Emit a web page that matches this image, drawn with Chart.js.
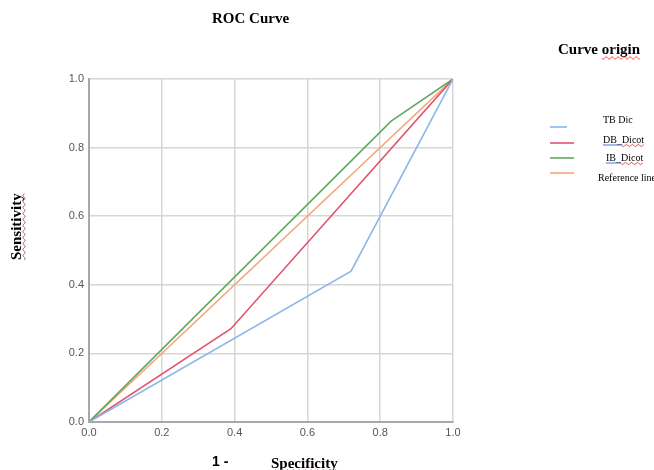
<!DOCTYPE html>
<html>
<head>
<meta charset="utf-8">
<script src="https://cdn.jsdelivr.net/npm/chart.js@4.4.1/dist/chart.umd.min.js"></script>
<style>
  html, body { margin: 0; padding: 0; background: #ffffff; }
  #wrap { width: 654px; height: 470px; position: relative; }
</style>
</head>
<body>
<div id="wrap"><canvas id="c" width="654" height="470"></canvas></div>
<script>
// ---- data ----
const seriesNames = ["TB Dic", "DB_Dicot", "IB_Dicot", "Reference line"];
const tbFpr = [0, 0.72, 1];
const tbTpr = [0, 0.44, 1];
const dbFpr = [0, 0.39, 1];
const dbTpr = [0, 0.272, 1];
const ibFpr = [0, 0.83, 1];
const ibTpr = [0, 0.877, 1];
const refFpr = [0, 1];
const refTpr = [0, 1];
const tickValues = [0, 0.2, 0.4, 0.6, 0.8, 1.0];
const chartTitle = "ROC Curve";
const legendTitle = "Curve origin";
const xTitleA = "1 -";
const xTitleB = "Specificity";
const yTitle = "Sensitivity";

const colors = ["#8db6ea", "#e0546f", "#62a862", "#f5a677"];

function pts(xs, ys) { return xs.map((x, i) => ({ x: x, y: ys[i] })); }

const datasets = [
  { label: seriesNames[0], data: pts(tbFpr, tbTpr) },
  { label: seriesNames[1], data: pts(dbFpr, dbTpr) },
  { label: seriesNames[2], data: pts(ibFpr, ibTpr) },
  { label: seriesNames[3], data: pts(refFpr, refTpr) }
].map((d, i) => Object.assign(d, {
  borderColor: colors[i],
  backgroundColor: colors[i],
  borderWidth: 1.6,
  pointRadius: 0,
  showLine: true,
  tension: 0,
  fill: false
}));

function wavy(ctx, x1, x2, y, color) {
  ctx.save();
  ctx.strokeStyle = color || "#e03030";
  ctx.lineWidth = 0.9;
  ctx.beginPath();
  for (let x = x1; x <= x2; x += 0.5) {
    const yy = y + Math.sin((x - x1) / 3 * Math.PI * 2 / 2) * 1.1;
    if (x === x1) ctx.moveTo(x, yy); else ctx.lineTo(x, yy);
  }
  ctx.stroke();
  ctx.restore();
}

const decorPlugin = {
  id: "decor",
  afterDraw(chart) {
    const ctx = chart.ctx;
    ctx.save();
    ctx.fillStyle = "#000";
    ctx.textBaseline = "alphabetic";

    // Title
    ctx.font = "bold 15px 'Liberation Serif', 'Times New Roman', serif";
    ctx.textAlign = "left";
    ctx.fillText(chartTitle, 212, 23);

    // Legend title
    ctx.fillText(legendTitle, 558, 54);
    const wCurve = ctx.measureText("Curve ").width;
    const wOrigin = ctx.measureText("origin").width;
    wavy(ctx, 558 + wCurve, 558 + wCurve + wOrigin, 58);

    // X title
    ctx.font = "bold 14px 'Liberation Sans', Arial, sans-serif";
    ctx.fillText(xTitleA, 212, 466);
    ctx.font = "bold 15px 'Liberation Serif', 'Times New Roman', serif";
    ctx.fillText(xTitleB, 271, 468);
    const wSpec = ctx.measureText(xTitleB).width;
    wavy(ctx, 271, 271 + wSpec, 471);

    // Y title (rotated)
    ctx.save();
    ctx.translate(21, 260);
    ctx.rotate(-Math.PI / 2);
    ctx.fillText(yTitle, 0, 0);
    const wSens = ctx.measureText(yTitle).width;
    wavy(ctx, 0, wSens, 3);
    ctx.restore();

    // Legend items
    const lineX1 = 550;
    const lineEnds = [567, 574, 574, 574];
    const lineYs = [127, 143, 158, 173];
    const textXs = [603, 603, 606, 598];
    const textYs = [123, 143, 161, 181];
    ctx.font = "10px 'Liberation Serif', 'Times New Roman', serif";
    for (let i = 0; i < seriesNames.length; i++) {
      ctx.strokeStyle = colors[i];
      ctx.lineWidth = 1.6;
      ctx.beginPath();
      ctx.moveTo(lineX1, lineYs[i]);
      ctx.lineTo(lineEnds[i], lineYs[i]);
      ctx.stroke();
      ctx.fillStyle = "#000";
      ctx.fillText(seriesNames[i], textXs[i], textYs[i]);
      if (seriesNames[i].indexOf("_") >= 0) {
        const parts = seriesNames[i].split("_");
        const wA = ctx.measureText(parts[0] + "_").width;
        const wB = ctx.measureText(parts[1]).width;
        ctx.strokeStyle = "#3a64c8";
        ctx.lineWidth = 0.9;
        ctx.beginPath();
        ctx.moveTo(textXs[i], textYs[i] + 2);
        ctx.lineTo(textXs[i] + wA, textYs[i] + 2);
        ctx.stroke();
        wavy(ctx, textXs[i] + wA, textXs[i] + wA + wB, textYs[i] + 2.5);
      }
    }
    ctx.restore();
  }
};

const tickFont = { family: "'Liberation Sans', Arial, sans-serif", size: 11 };

new Chart(document.getElementById("c"), {
  type: "scatter",
  data: { datasets: datasets },
  options: {
    responsive: false,
    animation: false,
    events: [],
    layout: { padding: { top: 79, right: 201, bottom: 0, left: 0 } },
    plugins: {
      legend: { display: false },
      title: { display: false },
      tooltip: { enabled: false }
    },
    scales: {
      x: {
        type: "linear",
        min: 0, max: 1,
        afterBuildTicks(scale) { scale.ticks = tickValues.map(v => ({ value: v })); },
        afterFit(scale) { scale.height = 48; },
        ticks: {
          color: "#555",
          font: tickFont,
          padding: 4,
          maxRotation: 0,
          callback: v => Number(v).toFixed(1)
        },
        grid: { color: "#d6d6d6", lineWidth: 1.5, drawTicks: false },
        border: { color: "#a8a8a8", width: 2 }
      },
      y: {
        type: "linear",
        min: 0, max: 1,
        afterBuildTicks(scale) { scale.ticks = tickValues.map(v => ({ value: v })); },
        afterFit(scale) { scale.width = 89; },
        ticks: {
          color: "#555",
          font: tickFont,
          padding: 5,
          callback: v => Number(v).toFixed(1)
        },
        grid: { color: "#d6d6d6", lineWidth: 1.5, drawTicks: false },
        border: { color: "#a8a8a8", width: 2 }
      }
    }
  },
  plugins: [decorPlugin]
});
</script>
</body>
</html>
